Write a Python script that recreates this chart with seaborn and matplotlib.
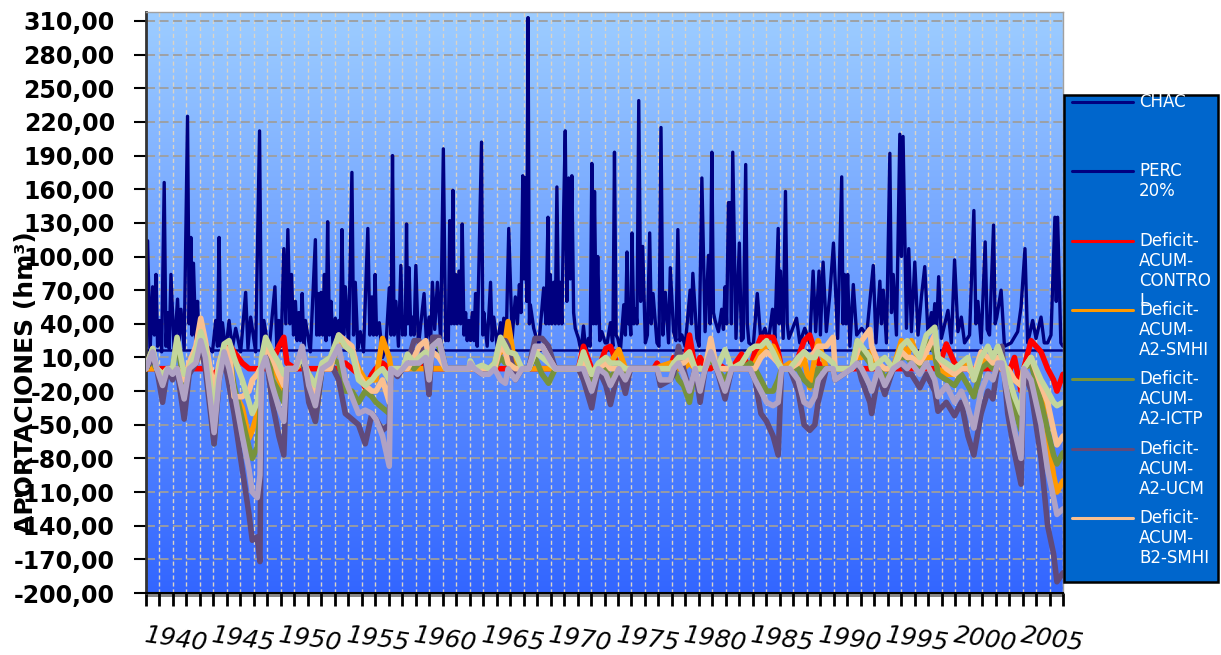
import numpy as np
import matplotlib
matplotlib.use("Agg")
import matplotlib.pyplot as plt
import seaborn as sns
from matplotlib.colors import LinearSegmentedColormap
from matplotlib.lines import Line2D
from matplotlib.patches import Rectangle

# ---------------------------------------------------------------- data
chac_year = [
    1940.0, 1940.12, 1940.3, 1940.49, 1940.62, 1940.74, 1940.86, 1940.99, 1941.16, 1941.35,
    1941.48, 1941.6, 1941.72, 1941.85, 1942.09, 1942.34, 1942.46, 1942.59, 1942.83, 1943.08,
    1943.2, 1943.33, 1943.42, 1943.52, 1943.69, 1943.82, 1943.94, 1944.06, 1944.19, 1944.31,
    1944.93, 1945.17, 1945.3, 1945.42, 1945.54, 1945.67, 1945.91, 1946.16, 1946.4, 1946.65,
    1947.02, 1947.39, 1947.56, 1947.76, 1948.13, 1948.42, 1948.57, 1948.74, 1949.11, 1949.56,
    1949.7, 1949.85, 1950.02, 1950.22, 1950.37, 1950.52, 1950.67, 1950.79, 1950.94, 1951.08,
    1951.21, 1951.33, 1951.45, 1951.58, 1951.7, 1951.82, 1952.19, 1952.56, 1952.66, 1952.76,
    1952.86, 1952.98, 1953.1, 1953.23, 1953.35, 1953.47, 1953.6, 1953.72, 1953.87, 1954.04,
    1954.16, 1954.29, 1954.41, 1954.53, 1954.66, 1954.78, 1955.02, 1955.27, 1955.39, 1955.52,
    1955.71, 1955.89, 1956.13, 1956.45, 1956.6, 1956.75, 1956.87, 1956.99, 1957.1,
    1957.3, 1957.54, 1957.79, 1958.04, 1958.16, 1958.28, 1958.4, 1958.53, 1958.72, 1958.9,
    1959.02, 1959.14, 1959.22, 1959.32, 1959.41, 1959.51, 1959.64, 1959.76, 1959.88, 1960.01,
    1960.2, 1960.62, 1960.79, 1960.99, 1961.11, 1961.24, 1961.41, 1961.61, 1961.85, 1962.05,
    1962.22, 1962.35, 1962.42, 1962.52, 1962.64, 1962.76, 1962.86, 1962.96, 1963.08, 1963.21,
    1963.33, 1963.45, 1963.58, 1963.7, 1963.82, 1963.95, 1964.07, 1964.19, 1964.32, 1964.44,
    1964.56, 1964.88, 1964.98, 1965.05, 1965.3, 1965.55, 1965.67, 1965.79, 1966.04, 1966.29,
    1966.41, 1966.53, 1966.71, 1966.9, 1967.15, 1967.39, 1967.54, 1967.69, 1967.81, 1967.94,
    1968.04, 1968.13, 1968.23, 1968.33, 1968.43, 1968.5, 1968.75, 1969.12, 1969.49, 1969.66,
    1969.81, 1969.88, 1969.98, 1970.1, 1970.23, 1970.35, 1970.47, 1970.6, 1970.72, 1970.84,
    1970.97, 1971.09, 1971.21, 1971.34, 1971.46, 1971.58, 1971.71, 1971.83, 1972.07, 1972.27,
    1972.44, 1972.62, 1972.81, 1972.94, 1973.06, 1973.18, 1973.26, 1973.38, 1973.5, 1973.65,
    1973.8, 1974.05, 1974.2,
    1974.44, 1974.62, 1974.74, 1974.86, 1974.98, 1975.18, 1975.43, 1975.55, 1975.67, 1975.77,
    1975.87, 1975.95, 1976.04, 1976.17, 1976.29, 1976.41, 1976.54, 1976.68, 1976.83, 1977.03,
    1977.18, 1977.35, 1977.47, 1977.6, 1977.89, 1978.04, 1978.19, 1978.33, 1978.51, 1978.75,
    1978.88, 1979.12, 1979.3, 1979.44, 1979.59, 1979.74, 1979.98, 1980.35, 1980.45, 1980.55,
    1980.85, 1981.02, 1981.22, 1981.46, 1981.71, 1981.83, 1981.96, 1982.08, 1982.2, 1982.45,
    1982.69, 1982.82, 1982.94, 1983.06, 1983.19, 1983.31, 1983.41, 1983.51, 1983.75, 1984.0,
    1984.15, 1984.29, 1984.47, 1984.59, 1984.71, 1985.03, 1985.33, 1985.58, 1985.9, 1986.14,
    1986.46, 1986.63, 1986.88, 1986.95, 1987.05, 1987.25, 1987.42, 1987.55, 1987.67, 1988.24,
    1988.48, 1988.85, 1989.22, 1989.47, 1989.66, 1989.91, 1990.01, 1990.21, 1990.45, 1990.7,
    1990.98,
    1991.29, 1991.59, 1991.69, 1991.79, 1991.91, 1992.03, 1992.2, 1992.45, 1992.7, 1993.07,
    1993.44, 1993.93, 1994.13, 1994.42, 1994.54, 1994.67, 1994.91, 1995.16, 1995.28, 1995.41,
    1995.65, 1995.9, 1996.02, 1996.14, 1996.39, 1996.56, 1996.76, 1997.01, 1997.25, 1997.5,
    1997.75, 1997.99, 1998.24, 1998.36, 1998.49, 1998.63, 1998.78, 1998.98, 1999.47, 1999.72,
    1999.96, 2000.21, 2000.46, 2000.7, 2001.07, 2001.39, 2001.54, 2001.69, 2001.93, 2002.23,
    2002.38, 2002.55, 2002.85, 2002.97, 2003.09, 2003.41, 2003.66, 2004.15, 2004.64, 2004.89,
    2005.18, 2005.38, 2005.75, 2006.0, 2006.37, 2006.61, 2006.86, 2007.11, 2007.4, 2007.5,
    2007.6, 2007.84, 2008.0,
]
chac_value = [
    20, 114, 15, 73, 30, 84, 20, 43, 15, 166,
    20, 50, 18, 84, 15, 62, 25, 53, 18, 225,
    40, 117, 30, 94, 25, 60, 20, 45, 18, 23,
    15, 43, 20, 117, 20, 41, 15, 43, 18, 36,
    15, 68, 18, 46, 15, 212, 15, 43, 15, 73,
    20, 43, 20, 107, 40, 124, 40, 84, 30, 60,
    25, 50, 25, 67, 20, 43, 15, 115, 30, 67,
    30, 68, 30, 84, 25, 131, 30, 60, 20, 45,
    20, 43, 25, 124, 30, 73, 20, 175, 30, 77,
    18, 33, 15, 125, 30, 64, 30, 84, 30,
    41, 10, 20, 72, 30, 190, 30, 60, 20, 92,
    30, 46, 30, 129, 40, 90, 30, 46, 30, 92,
    20, 67, 25, 46, 25, 77, 35, 77, 25, 196,
    25, 36, 25, 132, 40, 159, 40, 84, 40, 87,
    40, 129, 30, 50, 25, 43, 25, 50, 25, 67,
    20, 202, 30, 50, 20, 77, 25, 46, 20, 41,
    25, 45, 25, 125, 27, 64, 40, 75, 50, 172,
    80, 170, 60, 313, 40, 57, 36, 20, 72, 40,
    135, 40, 84, 40, 77, 40, 162, 40, 77, 40,
    140, 212, 60, 170, 80, 172, 50, 36, 27, 15,
    38, 15, 27, 20, 183, 40, 158, 40, 100, 25,
    33, 23, 23,
    41, 20, 193, 30, 27, 16, 57, 30, 104, 40,
    46, 30, 121, 40, 53, 40, 239, 60, 109, 23,
    30, 121, 40, 67, 23, 20, 215, 30, 68, 23,
    90, 33, 25, 124, 25, 30, 20, 70, 40, 85,
    27, 20, 170, 33, 101, 40, 193, 50, 43, 33,
    53, 35, 73, 40, 148, 148, 40, 193, 27, 112,
    25, 27, 182, 40, 23, 20, 67, 27, 36, 23,
    53, 27, 125, 40, 87, 27, 158, 40, 27, 45,
    23, 36, 23, 87, 33, 87, 30, 95, 33, 65,
    112,
    27, 171, 40, 84, 40, 84, 20, 75, 30, 36,
    30, 92, 23, 78, 40, 70, 23, 192, 50, 84,
    30, 209, 100, 207, 36, 107, 33, 95, 30, 64,
    91, 30, 50, 35, 58, 35, 82, 27, 52, 23,
    97, 33, 46, 23, 30, 141, 40, 60, 23, 113,
    35, 30, 128, 40, 46, 70, 20, 23, 33, 55,
    107, 23, 43, 27, 46, 23, 23, 30, 135, 60,
    135, 23, 20,
]
perc_20 = 17.0

def_year = [
    1940.0, 1940.25, 1940.5, 1940.8, 1941.23, 1941.6, 1941.97, 1942.3, 1942.83, 1943.2,
    1943.7, 1944.06, 1944.4, 1945.05, 1945.42, 1945.79, 1946.16, 1946.53, 1947.14, 1947.64,
    1947.88, 1948.25, 1948.45, 1948.57, 1948.87, 1949.36, 1949.85, 1950.22, 1950.45, 1951.08,
    1951.58, 1952.07, 1952.56, 1953.05, 1953.67, 1954.29, 1954.78, 1955.27, 1955.76, 1956.26,
    1956.75, 1957.05, 1957.54, 1958.04, 1958.16, 1958.65, 1959.05, 1959.39, 1959.88, 1960.25,
    1960.74, 1960.99, 1961.25, 1961.73, 1962.22, 1963.95, 1964.05, 1964.35, 1964.93, 1965.42,
    1965.85, 1966.29, 1966.65, 1966.85, 1967.39, 1967.89, 1968.38, 1968.85, 1969.37, 1969.85,
    1970.35, 1972.07, 1972.44, 1973.05, 1973.55, 1974.1, 1974.44, 1975.06, 1975.55, 1975.92,
    1977.64, 1977.9, 1978.14, 1978.88, 1979.12, 1979.49, 1979.86, 1980.3, 1980.72, 1981.09,
    1981.46, 1981.88, 1982.32, 1982.94, 1983.43, 1984.17, 1984.79, 1985.16, 1985.6, 1986.02,
    1986.5, 1986.88, 1987.13, 1987.74, 1988.36, 1988.8, 1989.22, 1989.6, 1989.84, 1990.45,
    1990.95, 1991.1, 1992.33, 1992.75, 1993.07, 1993.68, 1993.81, 1994.3, 1994.79, 1995.41,
    1996.02, 1996.45, 1996.76, 1997.38, 1997.87, 1998.49, 1998.73, 1999.35, 1999.96, 2000.46,
    2000.95, 2001.39, 2001.93, 2002.43, 2002.8, 2003.17, 2003.46, 2003.9, 2004.4, 2004.89,
    2005.09, 2005.63, 2006.37, 2006.86, 2007.3, 2007.55, 2008.0,
]
def_a2_ucm = [
    0, 5, 10, 0, -30, 0, -10, 0, -45, -5,
    5, 20, 0, -67, -10, 10, -15, -40, -90, -130,
    -153, -150, -172, 0, 15, -30, -60, -77, 0, 0,
    15, -30, -47, 0, 5, -10, -40, -45, -50, -67,
    -40, -45, -55, -50, 0, -7, 0, 5, 25, 25,
    5, -23, 28, 28, 0, 0, 3, 0, -5, 0,
    5, 25, 25, 20, -10, 0, 0, 27, 27, 20,
    0, 0, -10, -35, 0, -15, -32, 0, -22, 0,
    0, 0, -15, -10, -5, 20, 0, -20, 0, -30,
    0, 20, 0, -27, 0, 0, 0, -10, -40, -47,
    -60, -77, 0, 0, -20, -50, -55, -50, -30, 0,
    0, -10, 0, 5, -10, -30, -40, -5, -23, 0,
    5, -5, -5, -17, -5, -20, -38, -30, -42, -30,
    -60, -77, -40, -20, -27, 5, 20, -40, -75, -103,
    0, -20, -80, -140, -165, -190, -182,
]
def_extra_lavender = [
    0, 8, 15, 0, -15, 0, -5, 0, -27, 0,
    5, 25, 10, -57, -10, 15, 0, -20, -60, -90,
    -110, -115, -95, 0, 10, -15, -35, -47, 0, 0,
    20, -15, -33, 0, 5, 20, -10, -25, -40, -37,
    -40, -45, -60, -87, 0, -5, 0, 5, 5, 5,
    10, -10, 20, 25, 0, 0, 5, 0, -5, -5,
    0, -10, -13, 0, -10, 0, 0, 20, 20, 10,
    0, 0, 0, -20, 0, -5, -15, 0, -10, 0,
    0, 0, -10, -10, 0, 5, -5, -20, 0, -20,
    0, 15, 0, -20, 0, 0, 0, -10, -20, -30,
    -33, -30, 0, 0, -10, -30, -33, -25, -10, 0,
    0, -10, 0, 5, 0, -15, -20, 0, -15, 0,
    5, 0, 5, -5, 5, -10, -25, -15, -30, -20,
    -35, -53, -20, -5, -10, 5, 5, -25, -55, -80,
    0, -10, -50, -90, -115, -130, -125,
]
def_a2_ictp = [
    0, 5, 5, 0, -10, 0, 0, 25, -15, 0,
    10, 30, 15, -67, -5, 20, 10, -15, -45, -70,
    -80, -70, -40, 5, 25, -10, -20, -30, 0, 0,
    10, -20, -47, 0, 10, 5, -20, -20, -30, -20,
    -25, -30, -35, -40, 0, 0, 0, 5, 0, 5,
    10, 0, 25, 20, 0, 0, 5, 0, 0, 0,
    0, 10, 5, 10, 0, 0, 0, 10, -5, -13,
    0, 0, 5, -10, 0, 0, -10, 5, -5, 0,
    0, 0, 0, 0, 0, -10, -15, -30, 0, 0,
    0, 10, 0, -10, 0, 0, 5, 0, -10, -20,
    -20, -10, 0, 0, 0, -10, -15, -15, 0, 0,
    0, 0, 0, 25, 15, 5, 0, 5, -10, 0,
    10, 10, 5, 0, 25, 15, -5, -10, -15, -5,
    -15, -25, 0, 5, 0, 15, 10, -10, -35, -55,
    0, 5, -30, -55, -77, -85, -75,
]
def_a2_smhi = [
    0, 0, 0, 0, -5, 0, 0, 0, -5, 0,
    5, 15, 5, -30, 0, 15, 15, -20, -35, -62,
    -55, -40, -10, 5, 15, 5, -10, -20, 0, 0,
    5, -5, -15, 0, 0, 25, 20, 15, 0, -10,
    -10, -10, 27, 10, 0, 0, 0, 0, 0, 0,
    0, 0, 0, 0, 0, 0, 0, 0, 0, 0,
    0, 15, 25, 42, 0, 0, 0, 0, 0, 0,
    0, 0, 10, -5, 0, 0, 5, 17, 0, 0,
    0, 0, 2, 5, 5, 0, 0, 5, 0, 0,
    0, 15, 0, 0, 0, 0, 0, 5, 15, 20,
    20, 10, 0, 5, 0, 10, -17, 10, 25, 0,
    0, 0, 0, 10, 10, 15, 10, 0, 0, 0,
    25, 10, 25, 5, 10, 10, 0, -5, -5, 5,
    5, -10, 5, 10, 0, 0, 0, 0, -10, -15,
    0, 5, -20, -60, -95, -110, -100,
]
def_b2_smhi = [
    0, 10, 18, 0, -5, 0, 0, 0, -10, 5,
    20, 45, 25, -20, 5, 20, 15, -25, -25, -20,
    -10, -5, 0, 0, 20, 10, -5, -15, 0, 0,
    15, -10, -25, 0, 0, 30, 25, 20, -5, -15,
    -20, -20, -10, -30, 0, 0, 0, 0, 10, 20,
    25, 10, 15, 10, 0, 0, 0, 0, 0, 0,
    0, 20, 15, 5, 0, 0, 0, 15, 20, 10,
    0, 0, 5, -5, 0, 5, 0, 0, 0, 0,
    0, 0, 0, 0, 0, 5, 5, 10, 0, 0,
    0, 27, 0, 0, 0, 0, 0, 0, 10, 15,
    10, 5, 0, 0, 5, 15, 10, 15, 20, 20,
    28, 0, 0, 15, 25, 35, 20, 5, 0, 0,
    15, 10, 10, 5, 15, 30, 10, 0, -5, 0,
    0, -5, 15, 10, 5, 10, 0, 0, -10, -15,
    0, 10, -15, -30, -55, -68, -60,
]
def_control = [
    0, 0, 0, 0, 0, 0, 0, 0, 0, 0,
    0, 0, 0, -5, 0, 18, 22, 15, 5, 0,
    0, 0, 0, 0, 0, 5, 20, 28, 5, 0,
    0, 0, 0, 0, 0, 0, 5, 0, -5, -17,
    -5, 0, 5, 0, 0, 0, 0, 0, 5, 8,
    0, 0, 0, 0, 0, 0, 0, 0, 0, 0,
    0, 0, 0, 0, 0, 0, 0, 0, 0, 0,
    0, 0, 20, 0, 0, 18, 20, 0, 0, 0,
    0, 5, 0, 0, 10, 0, 0, 30, 0, 10,
    0, 0, 5, 0, 0, 13, 0, 15, 28, 28,
    28, 15, 0, 0, 10, 25, 30, 15, 5, 0,
    0, 0, 0, 0, 0, 0, 0, 0, 0, 0,
    0, 0, 0, 0, 0, 0, 0, 22, 5, 0,
    0, 0, 0, 0, 0, 0, 0, -7, 10, -20,
    0, 25, 15, 0, -10, -20, -5,
]
def_extra_lightgreen = [
    0, 10, 18, 0, -5, 0, 0, 28, -5, 0,
    15, 33, 20, -40, 0, 22, 25, 10, -10, -30,
    -40, -30, -10, 10, 28, 15, 5, -5, 0, 0,
    10, -5, -15, 5, 10, 30, 20, 15, -10, -15,
    -10, -5, 0, -10, 0, 0, 0, 13, 5, 10,
    15, 5, 20, 25, 0, 0, 7, 0, 3, 0,
    5, 28, 20, 15, 13, 0, 0, 15, 10, 5,
    0, 0, 15, -5, 5, 10, 5, 5, 0, 0,
    0, 0, 0, 0, 5, 10, 10, 15, 0, 0,
    0, 15, 0, 17, 0, 5, 17, 20, 20, 25,
    15, 5, 0, 0, 10, 15, 10, 10, 15, 10,
    5, 0, 0, 25, 20, 10, 0, 5, 10, 0,
    20, 25, 20, 10, 30, 37, 10, 5, 0, 5,
    10, -10, 10, 20, 10, 20, 10, -5, -25, -40,
    0, 10, -10, -20, -30, -33, -30,
]

y_ticks = [310, 280, 250, 220, 190, 160, 130, 100, 70, 40, 10,
           -20, -50, -80, -110, -140, -170, -200]
y_tick_labels = ["310,00", "280,00", "250,00", "220,00", "190,00", "160,00",
                 "130,00", "100,00", "70,00", "40,00", "10,00", "-20,00",
                 "-50,00", "-80,00", "-110,00", "-140,00", "-170,00", "-200,00"]
x_label_years = [1940, 1945, 1950, 1955, 1960, 1965, 1970, 1975, 1980,
                 1985, 1990, 1995, 2000, 2005]
legend_labels = ["CHAC", "PERC\n20%", "Deficit-\nACUM-\nCONTRO\nL",
                 "Deficit-\nACUM-\nA2-SMHI", "Deficit-\nACUM-\nA2-ICTP",
                 "Deficit-\nACUM-\nA2-UCM", "Deficit-\nACUM-\nB2-SMHI"]
y_label = "APORTACIONES (hm³)"

# ---------------------------------------------------------------- styling
C_NAVY = "#000080"
C_RED = "#FF0000"
C_ORANGE = "#FF9900"
C_GREEN = "#77933C"
C_PURPLE = "#604A7B"
C_PEACH = "#FAC090"
C_LGREEN = "#C3D69B"
C_LAVENDER = "#B0A2C4"

sns.set_theme(style="white")
plt.rcParams["font.family"] = ["DejaVu Sans"]

W, H = 1221, 655
X0, X1 = 1940, 2008
Y0, Y1 = -200, 318

fig = plt.figure(figsize=(W / 100, H / 100), dpi=100)
fig.patch.set_facecolor("white")
ax = fig.add_axes([146 / W, 1 - 593 / H, 917 / W, 581 / H])

bg = LinearSegmentedColormap.from_list("bg", ["#9DCDFF", "#3366FF"])
ax.imshow(np.linspace(0, 1, 256).reshape(-1, 1), extent=[X0, X1, Y0, Y1],
          origin="upper", aspect="auto", cmap=bg, zorder=0,
          interpolation="bilinear")

ax.set_axisbelow(True)
ax.grid(True, axis="y", color="#9E9E9E", linestyle=(0, (5, 2.5)), linewidth=1.3)
ax.grid(True, axis="x", color="#DAD3C6", linestyle=(0, (3, 2)), linewidth=1.0)

# CHAC series and PERC 20 %
sns.lineplot(x=chac_year, y=chac_value, ax=ax, color=C_NAVY, linewidth=2.4,
             estimator=None, sort=False, legend=False, zorder=2)
ax.axhline(perc_20, color=C_NAVY, linewidth=1.8, zorder=2.1)

# deficit series (draw order as in the original)
series = [
    (def_control, C_RED),
    (def_a2_smhi, C_ORANGE),
    (def_a2_ictp, C_GREEN),
    (def_a2_ucm, C_PURPLE),
    (def_b2_smhi, C_PEACH),
    (def_extra_lightgreen, C_LGREEN),
    (def_extra_lavender, C_LAVENDER),
]
for k, (vals, col) in enumerate(series):
    sns.lineplot(x=def_year, y=vals, ax=ax, color=col, linewidth=4.0,
                 estimator=None, sort=False, legend=False, zorder=3 + k * 0.1)

ax.set_xlim(X0, X1)
ax.set_ylim(Y0, Y1)
ax.set_xlabel("")
ax.set_ylabel("")

# ticks first, then labels (so that label styling is not reset)
ax.tick_params(axis="y", left=True, length=9, width=1.5, pad=13.5,
               colors="black", direction="out", labelsize=17)
ax.tick_params(axis="x", bottom=True, length=9, width=2, pad=13,
               colors="black", direction="out", labelsize=18)

ax.set_yticks(y_ticks)
ax.set_yticklabels(y_tick_labels)
for lbl in ax.get_yticklabels():
    lbl.set_fontsize(17)
    lbl.set_fontweight("bold")

years = list(range(X0, X1 + 1))
ax.set_xticks(years)
ax.set_xticklabels([str(y) if y in x_label_years else "" for y in years])
for lbl in ax.get_xticklabels():
    lbl.set_fontsize(18)
    lbl.set_fontstyle("italic")
    lbl.set_rotation(-8)
    lbl.set_rotation_mode("anchor")
    lbl.set_horizontalalignment("left")
    lbl.set_verticalalignment("top")

for side, col, lw in [("left", "#333333", 2.0), ("bottom", "black", 1.5),
                      ("top", "#A0A0A0", 1.0), ("right", "#A0A0A0", 1.0)]:
    ax.spines[side].set_visible(True)
    ax.spines[side].set_color(col)
    ax.spines[side].set_linewidth(lw)

# gray floor band below the plot
fig.add_artist(Rectangle((146 / W, 1 - 597 / H), 917 / W, 4 / H,
                         transform=fig.transFigure, facecolor="#8A8A8A",
                         edgecolor="none", zorder=-1))

fig.text(26 / W, 1 - 383 / H, y_label, rotation=90, fontsize=18,
         fontweight="bold", ha="center", va="center", color="black")

# legend box
legend_colors = [C_NAVY, C_NAVY, C_RED, C_ORANGE, C_GREEN, C_PURPLE, C_PEACH]
fig.add_artist(Rectangle((1064 / W, 1 - 582 / H), 154 / W, 487 / H,
                         transform=fig.transFigure, facecolor="#0066CC",
                         edgecolor="black", linewidth=1.8, zorder=5))
for i, (lab, col) in enumerate(zip(legend_labels, legend_colors)):
    ypx = 102 + i * 69.3
    fig.add_artist(Line2D([1072 / W, 1133 / W], [1 - ypx / H] * 2,
                          transform=fig.transFigure, color=col,
                          linewidth=2.2, zorder=6))
    for j, line in enumerate(lab.split("\n")):
        fig.text(1139 / W, 1 - (ypx + j * 20) / H, line, color="white",
                 fontsize=12, ha="left", va="center", zorder=7)

fig.savefig("out.png", dpi=100)
